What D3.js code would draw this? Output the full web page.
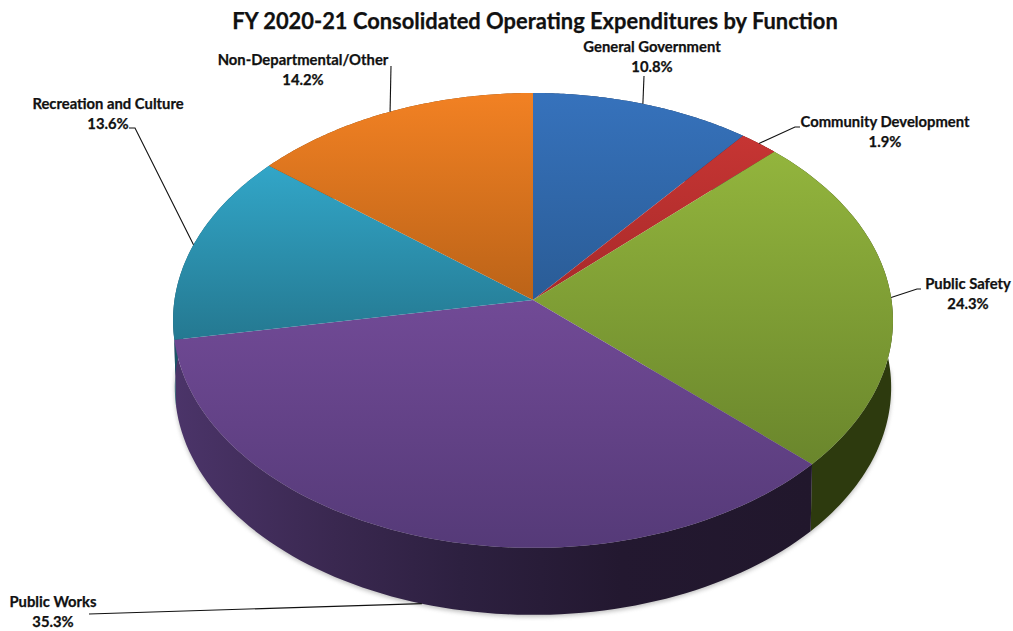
<!DOCTYPE html>
<html><head><meta charset="utf-8">
<script src="https://cdn.jsdelivr.net/npm/d3@7"></script>
<style>html,body{margin:0;padding:0;background:#fff}svg{display:block}text{font-family:Lato,"Open Sans",sans-serif;font-weight:700;fill:#111;stroke:#111;stroke-width:.25px}</style>
</head><body><svg id="c" width="1013" height="631"></svg>
<script>
const categories = ["General Government","Community Development","Public Safety","Public Works","Recreation and Culture","Non-Departmental/Other"];
const values = [10.8,1.9,24.3,35.3,13.6,14.2];
const topColors = [["#3672bc","#2a5c96"],["#c63533","#a82a2a"],["#93b53d","#6a862c"],["#714a96","#553a78"],["#32a6c8","#24778f"],["#f28123","#bb6318"]];
const sideColors = [["#1c3557","#1c3557"],["#5c1a18","#5c1a18"],["#38480f","#2d3a0e"],["#4b3469","#21172c"],["#1b5466","#1b5466"],["#7a4210","#7a4210"]];
// label anchor (centre x, first baseline y) and leader elbow points
const labelPos = [[652,52],[885,127],[968,289],[53,607],[108,109],[303,65]];
const elbows = [[[644,76]],[[795,127],[800,127]],[[917,289],[921,289]],[[89,614]],[[135,128],[129,128]],[[391,66]]];

const svg = d3.select("#c"), defs = svg.append("defs");
const cx=533, cy=300, A=358.5, B=225.6, P=0.0899, depth=67;
const project = (a,d=0)=>{const k=1+P*Math.cos(a), s=d?0.995:1;
  return [cx+s*A*Math.sin(a)/k, cy-B*Math.cos(a)/k+d];};
const line = d3.line();
const arcPts = (a0,a1,d)=>d3.range(0,81).map(i=>project(a0+(a1-a0)*i/80,d));
const arcs = d3.pie().sort(null).startAngle(0).endAngle(2*Math.PI)(values);

const yRanges=[[93,300],[135,300],[150,465],[300,548],[165,345],[93,300]];
arcs.forEach((d,i)=>{
  defs.append("linearGradient").attr("id","t"+i).attr("gradientUnits","userSpaceOnUse")
    .attr("x1",0).attr("x2",0).attr("y1",yRanges[i][0]).attr("y2",yRanges[i][1])
    .selectAll("stop").data(topColors[i]).join("stop").attr("offset",(c,j)=>j).attr("stop-color",c=>c);
  const p0=project(d.startAngle)[0], p1=project(d.endAngle)[0];
  const g=defs.append("linearGradient").attr("id","s"+i).attr("gradientUnits","userSpaceOnUse")
    .attr("x1",Math.min(p0,p1)).attr("x2",Math.max(p0,p1)).attr("y1",0).attr("y2",0);
  const cols = i===3?[[0,"#4b3469"],[0.25,"#3a2850"],[0.45,"#2d2040"],[0.7,"#231830"],[1,"#21172c"]]
                    :[[0,sideColors[i][0]],[1,sideColors[i][1]]];
  g.selectAll("stop").data(cols).join("stop").attr("offset",c=>c[0]).attr("stop-color",c=>c[1]);
});
const blur=defs.append("filter").attr("id","b").attr("x","-5%").attr("y","-5%").attr("width","110%").attr("height","110%");
blur.append("feGaussianBlur").attr("stdDeviation",2);

// soft shadow
svg.append("path").attr("d",line(arcPts(Math.PI/2,3*Math.PI/2,depth+2))+"Z").attr("fill","#8a8a8a").attr("opacity",.55).attr("filter","url(#b)");
// sides
svg.append("g").selectAll("path").data(arcs).join("path")
  .attr("d",d=>line([...arcPts(d.startAngle,d.endAngle,0),...arcPts(d.startAngle,d.endAngle,depth).reverse()])+"Z")
  .attr("fill",(d,i)=>`url(#s${i})`);
// top faces
svg.append("g").selectAll("path").data(arcs).join("path")
  .attr("d",d=>line([[cx,cy],...arcPts(d.startAngle,d.endAngle,0)])+"Z")
  .attr("fill",(d,i)=>`url(#t${i})`);
// leader lines
svg.append("g").selectAll("path").data(arcs).join("path")
  .attr("d",(d,i)=>{const m=(d.startAngle+d.endAngle)/2; const off=(m>Math.PI/2+0.2&&m<3*Math.PI/2-0.2)?depth:0;
    return line([project(m,off),...elbows[i]]);})
  .attr("fill","none").attr("stroke","#111").attr("stroke-width",1.1);
// labels
const lab=svg.append("g").selectAll("text").data(arcs).join("text")
  .attr("text-anchor","middle").attr("font-size",14.8);
lab.append("tspan").attr("x",(d,i)=>labelPos[i][0]).attr("y",(d,i)=>labelPos[i][1]).text((d,i)=>categories[i]);
lab.append("tspan").attr("x",(d,i)=>labelPos[i][0]).attr("y",(d,i)=>labelPos[i][1]+20).text((d,i)=>d3.format(".1f")(values[i])+"%");
svg.append("text").attr("x",535).attr("y",29).attr("text-anchor","middle").attr("font-size",21.9)
  .text("FY 2020-21 Consolidated Operating Expenditures by Function");
</script></body></html>
